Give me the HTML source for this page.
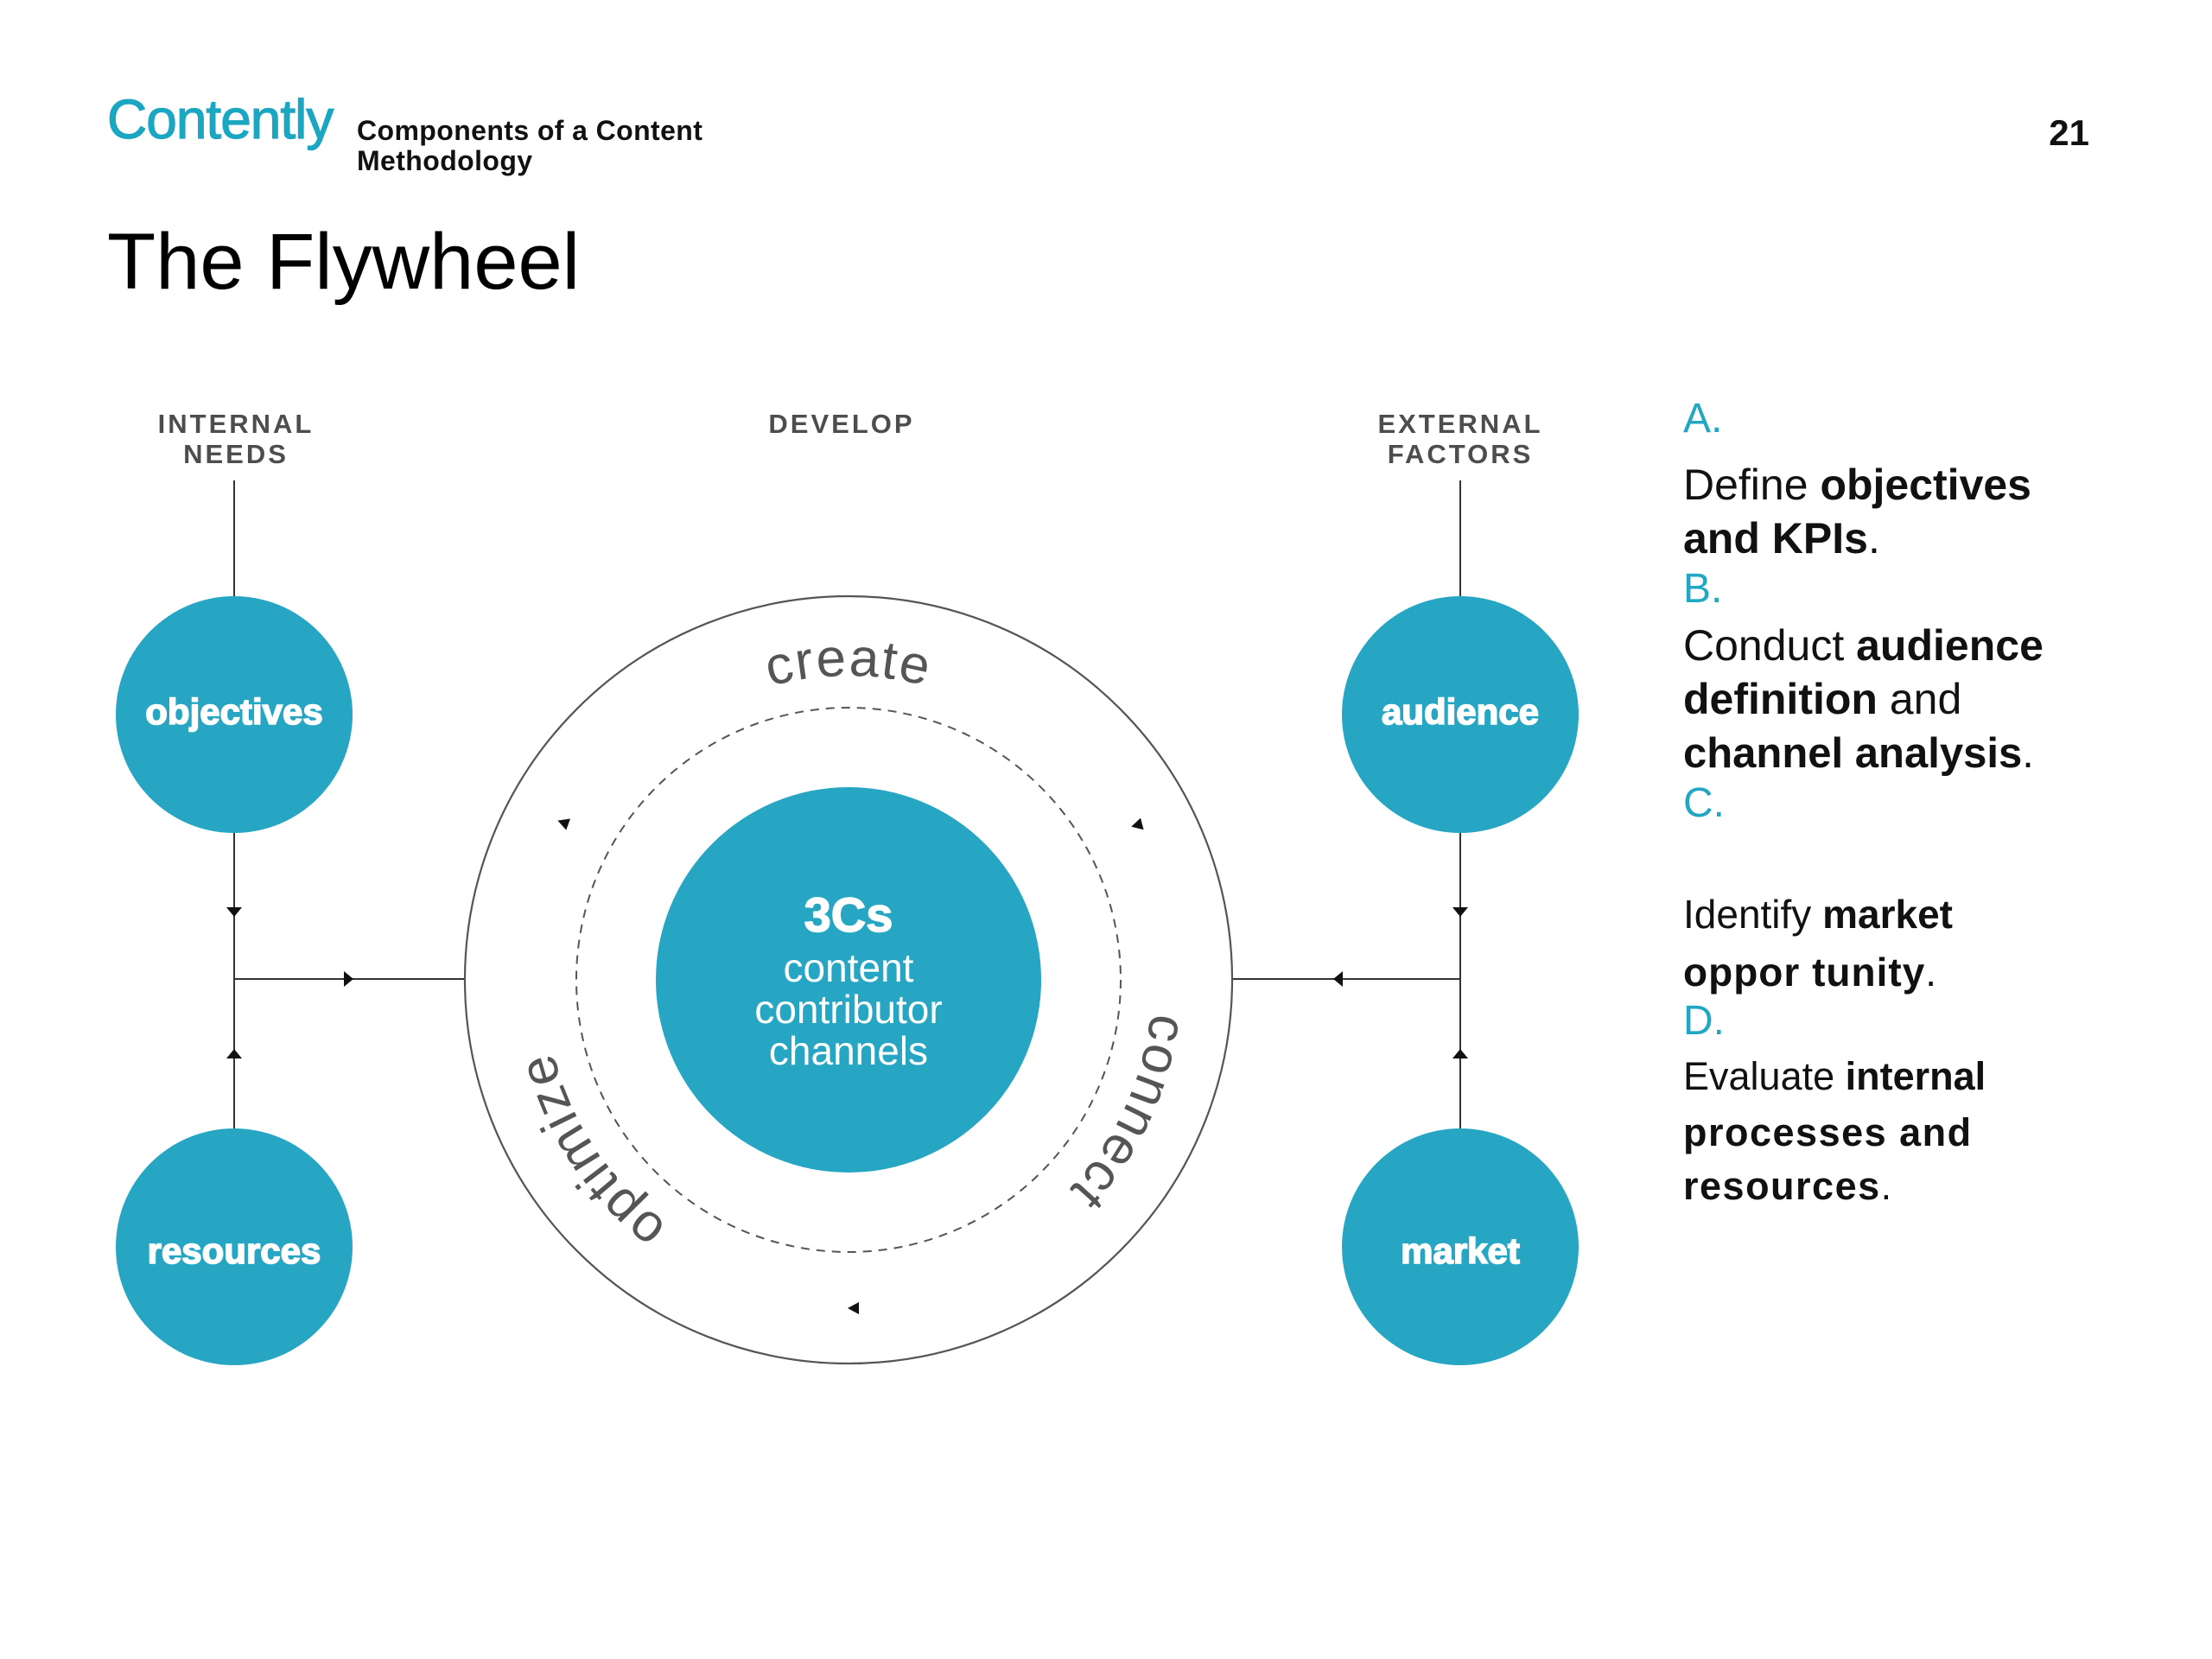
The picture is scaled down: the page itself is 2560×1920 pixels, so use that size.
<!DOCTYPE html>
<html>
<head>
<meta charset="utf-8">
<style>
  html, body { margin: 0; padding: 0; background: #ffffff; }
  body { width: 2560px; height: 1920px; overflow: hidden; }
  svg { display: block; }
  text { font-family: "Liberation Sans", "DejaVu Sans", sans-serif; }
</style>
</head>
<body>
<svg width="2560" height="1920" viewBox="0 0 2560 1920" xmlns="http://www.w3.org/2000/svg">
  <rect x="0" y="0" width="2560" height="1920" fill="#ffffff"/>

  <!-- Header -->
  <text x="124" y="160" font-size="64" fill="#1ba6c1" stroke="#1ba6c1" stroke-width="1.2" letter-spacing="-1">Contently</text>
  <text x="413" y="162" font-size="32" font-weight="bold" fill="#111" letter-spacing="0.4">Components of a Content</text>
  <text x="413" y="197" font-size="32" font-weight="bold" fill="#111" letter-spacing="0.4">Methodology</text>
  <text x="2418" y="168" font-size="42" font-weight="bold" fill="#111" text-anchor="end">21</text>

  <!-- Title -->
  <text x="124" y="334" font-size="92" fill="#000">The Flywheel</text>

  <!-- Column labels -->
  <g font-size="31" font-weight="bold" fill="#4d4d4d" letter-spacing="3" text-anchor="middle">
    <text x="273" y="501">INTERNAL</text>
    <text x="273" y="536">NEEDS</text>
    <text x="974" y="501">DEVELOP</text>
    <text x="1690" y="501">EXTERNAL</text>
    <text x="1690" y="536">FACTORS</text>
  </g>

  <!-- Connector lines -->
  <g stroke="#333" stroke-width="2" fill="none">
    <line x1="271" y1="556" x2="271" y2="690"/>
    <line x1="271" y1="963" x2="271" y2="1306"/>
    <line x1="271" y1="1133" x2="538" y2="1133"/>
    <line x1="1690" y1="556" x2="1690" y2="690"/>
    <line x1="1690" y1="963" x2="1690" y2="1306"/>
    <line x1="1426" y1="1133" x2="1690" y2="1133"/>
  </g>

  <!-- Connector arrowheads -->
  <g fill="#111">
    <polygon points="262,1050 280,1050 271,1061"/>
    <polygon points="262,1225 280,1225 271,1214"/>
    <polygon points="398,1124 398,1142 409,1133"/>
    <polygon points="1681,1050 1699,1050 1690,1061"/>
    <polygon points="1681,1225 1699,1225 1690,1214"/>
    <polygon points="1554,1124 1554,1142 1543,1133"/>
  </g>

  <!-- Outer ring and dashed ring -->
  <circle cx="982" cy="1134" r="444" fill="none" stroke="#555" stroke-width="2.2"/>
  <circle cx="982" cy="1134" r="315" fill="none" stroke="#555" stroke-width="2" stroke-dasharray="10 8"/>

  <!-- Ring arrowheads -->
  <g fill="#111">
    <polygon points="-7,0 6,-7 6,7" transform="translate(652,952) rotate(20)"/>
    <polygon points="-7,0 6,-7 6,7" transform="translate(1316,955) rotate(-15)"/>
    <polygon points="-7,0 6,-7 6,7" transform="translate(988,1514)"/>
  </g>

  <!-- Ring labels -->
  <defs>
    <path id="arcCreate" d="M677.2,958 A352,352 0 0 1 1286.8,958"/>
    <path id="arcConnect" d="M1270.4,932.1 A352,352 0 0 1 1012.7,1484.7"/>
    <path id="arcOptimize" d="M1003.5,1485.3 A352,352 0 0 1 667.0,976.9"/>
  </defs>
  <g font-size="62" fill="#555" letter-spacing="2">
    <text><textPath href="#arcCreate" startOffset="50%" text-anchor="middle">create</textPath></text>
    <text><textPath href="#arcConnect" startOffset="50%" text-anchor="middle">connect</textPath></text>
    <text><textPath href="#arcOptimize" startOffset="50%" text-anchor="middle">optimize</textPath></text>
  </g>

  <!-- Center circle -->
  <circle cx="982" cy="1134" r="223" fill="#27a6c3"/>
  <text x="982" y="1078" font-size="56" font-weight="bold" fill="#fff" stroke="#fff" stroke-width="1.5" text-anchor="middle">3Cs</text>
  <g font-size="46" fill="#fff" text-anchor="middle">
    <text x="982" y="1136">content</text>
    <text x="982" y="1184">contributor</text>
    <text x="982" y="1232">channels</text>
  </g>

  <!-- Side nodes -->
  <g fill="#27a6c3">
    <circle cx="271" cy="827" r="137"/>
    <circle cx="271" cy="1443" r="137"/>
    <circle cx="1690" cy="827" r="137"/>
    <circle cx="1690" cy="1443" r="137"/>
  </g>
  <g font-size="42" font-weight="bold" fill="#fff" stroke="#fff" stroke-width="1.6" text-anchor="middle">
    <text x="271" y="838">objectives</text>
    <text x="271" y="1462">resources</text>
    <text x="1690" y="838">audience</text>
    <text x="1690" y="1462">market</text>
  </g>

  <!-- Right column -->
  <g fill="#111">
    <text x="1948" y="500" font-size="48" fill="#22a7c2">A.</text>
    <text x="1948" y="578" font-size="50">Define <tspan font-weight="bold">objectives</tspan></text>
    <text x="1948" y="640" font-size="50"><tspan font-weight="bold">and KPIs</tspan>.</text>
    <text x="1948" y="697" font-size="48" fill="#22a7c2">B.</text>
    <text x="1948" y="764" font-size="50">Conduct <tspan font-weight="bold">audience</tspan></text>
    <text x="1948" y="826" font-size="50"><tspan font-weight="bold">definition</tspan> and</text>
    <text x="1948" y="888" font-size="49"><tspan font-weight="bold">channel analysis</tspan>.</text>
    <text x="1948" y="945" font-size="48" fill="#22a7c2">C.</text>
    <text x="1948" y="1074" font-size="46">Identify <tspan font-weight="bold">market</tspan></text>
    <text x="1948" y="1141" font-size="46" letter-spacing="1"><tspan font-weight="bold">oppor tunity</tspan>.</text>
    <text x="1948" y="1197" font-size="48" fill="#22a7c2">D.</text>
    <text x="1948" y="1261" font-size="45">Evaluate <tspan font-weight="bold">internal</tspan></text>
    <text x="1948" y="1326" font-size="45" font-weight="bold" letter-spacing="1.5">processes and</text>
    <text x="1948" y="1388" font-size="45" letter-spacing="1.5"><tspan font-weight="bold">resources</tspan>.</text>
  </g>
</svg>
</body>
</html>
